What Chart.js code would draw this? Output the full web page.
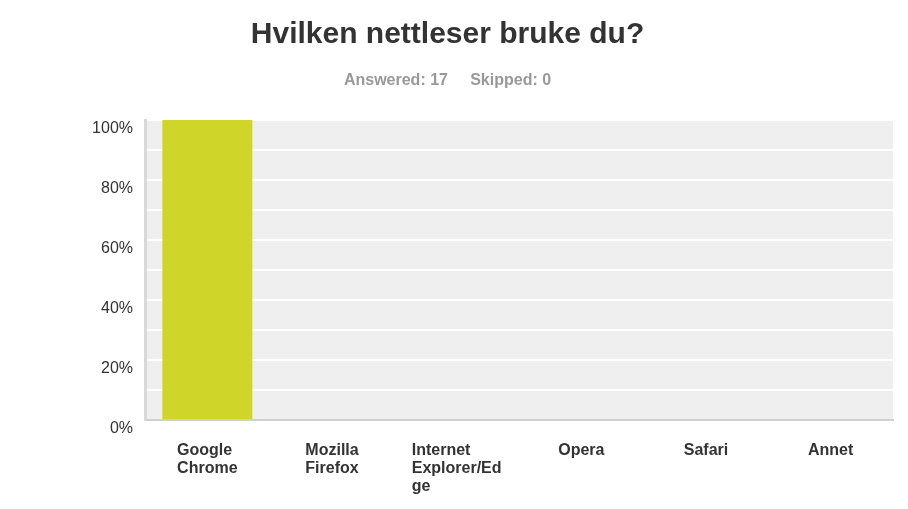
<!DOCTYPE html>
<html>
<head>
<meta charset="utf-8">
<script src="https://cdn.jsdelivr.net/npm/chart.js@4/dist/chart.umd.min.js"></script>
<style>
  html, body { margin: 0; padding: 0; background: #ffffff; }
  #wrap { width: 908px; height: 509px; position: relative; }
</style>
</head>
<body>
<div id="wrap"><canvas id="c" width="908" height="509"></canvas></div>
<script>
const titleText = "Hvilken nettleser bruke du?";
const subtitleText = "Answered: 17     Skipped: 0";
const categories = [
  ["Google", "Chrome"],
  ["Mozilla", "Firefox"],
  ["Internet", "Explorer/Ed", "ge"],
  ["Opera"],
  ["Safari"],
  ["Annet"]
];
const values = [100, 0, 0, 0, 0, 0];
const yTickLabels = ["0%", "20%", "40%", "60%", "80%", "100%"];

const FONT = "'Liberation Sans', Arial, Helvetica, sans-serif";

const plotBg = {
  id: 'plotBg',
  beforeDraw(chart) {
    const { ctx, chartArea: a } = chart;
    ctx.save();
    ctx.fillStyle = '#efefef';
    ctx.fillRect(a.left, a.top, a.right - a.left, a.bottom - a.top);
    ctx.restore();
  }
};

const texts = {
  id: 'texts',
  afterDraw(chart) {
    const { ctx, chartArea: a } = chart;
    const xs = chart.scales.x;
    ctx.save();
    const cx = a.right / 2 + 1;
    ctx.textAlign = 'center';
    ctx.textBaseline = 'alphabetic';
    ctx.fillStyle = '#333333';
    ctx.font = 'bold 30px ' + FONT;
    ctx.fillText(titleText, cx, 43);
    ctx.fillStyle = '#999999';
    ctx.font = 'bold 16px ' + FONT;
    ctx.fillText(subtitleText, cx, 85);
    ctx.font = 'bold 16px ' + FONT;
    ctx.fillStyle = '#333333';
    ctx.textAlign = 'left';
    categories.forEach((lines, i) => {
      const x = xs.getPixelForValue(i);
      const w = Math.max(...lines.map(l => ctx.measureText(l).width));
      lines.forEach((l, j) => {
        ctx.fillText(l, x - w / 2, a.bottom + 35 + 18 * j);
      });
    });
    ctx.restore();
  }
};

new Chart(document.getElementById('c'), {
  type: 'bar',
  data: {
    labels: categories.map(c => c.join(' ')),
    datasets: [{
      data: values,
      backgroundColor: '#d0d52a',
      borderWidth: 0,
      barPercentage: 0.722,
      categoryPercentage: 1.0
    }]
  },
  options: {
    responsive: false,
    animation: false,
    devicePixelRatio: 1,
    layout: { padding: { top: 120, left: 80, right: 15, bottom: 0 } },
    plugins: { legend: { display: false }, tooltip: { enabled: false }, title: { display: false } },
    scales: {
      x: {
        grid: { display: false, drawTicks: false },
        border: { display: true, color: '#d0d0d0', width: 2 },
        ticks: { display: false },
        afterFit(s) { s.height = 89; }
      },
      y: {
        min: 0, max: 100,
        grid: { color: '#ffffff', lineWidth: 2, drawTicks: false },
        border: { display: true, color: '#d9d9d9', width: 3 },
        ticks: {
          stepSize: 10,
          padding: 12,
          labelOffset: 9,
          color: '#333333',
          font: { family: FONT, size: 16 },
          callback: (v) => (v % 20 === 0 ? yTickLabels[v / 20] : '')
        },
        afterFit(s) { s.width = 65; }
      }
    }
  },
  plugins: [plotBg, texts]
});
</script>
</body>
</html>
